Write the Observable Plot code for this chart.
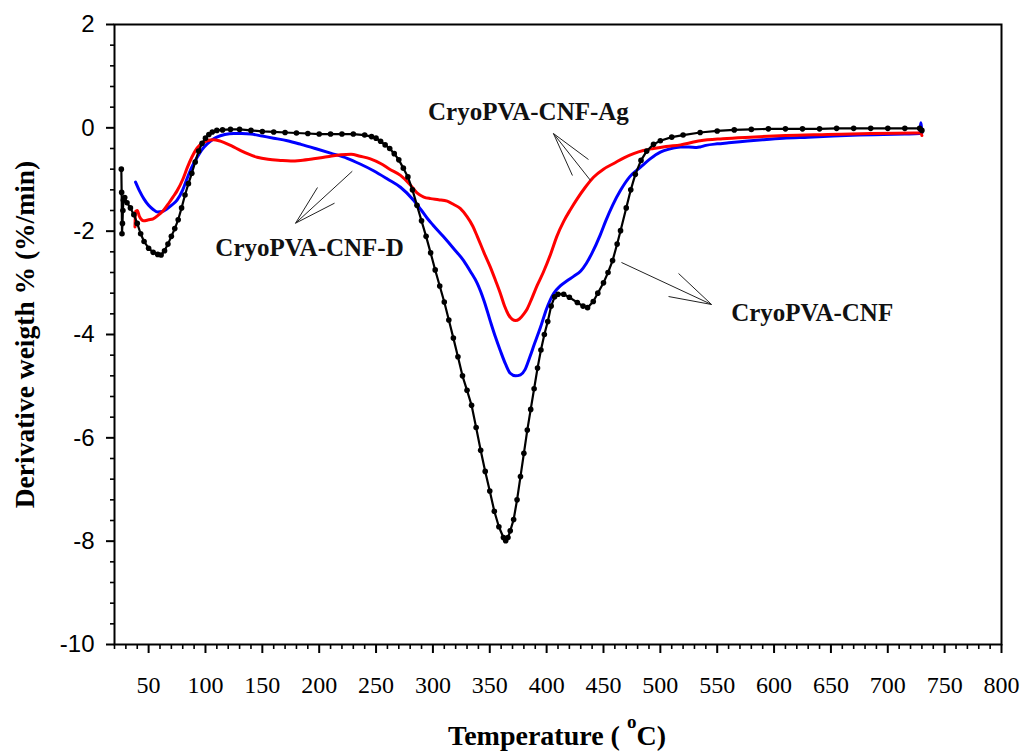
<!DOCTYPE html>
<html>
<head>
<meta charset="utf-8">
<script src="https://cdn.jsdelivr.net/npm/d3@7"></script>
<script src="https://cdn.jsdelivr.net/npm/@observablehq/plot@0.6"></script>
<style>
  html, body { margin: 0; padding: 0; background: #fff; }
</style>
</head>
<body>
<div id="chart"></div>
<script>
// ---- Data ----
// CryoPVA-CNF (black, with markers)
const cnfT = [26,26.3,26.6,27,27.4,27.8,29,31,34,37,40,43,46,50,54,58,61,64,67,70,73,76,79,82,85,88,91,94,97,100,103,106,110,115,122,130,140,150,160,170,180,190,200,210,220,230,240,246,250,254,258,262,266,270,274,278,282,286,290,294,298,302,306,310,314,318,322,326,330,334,338,342,346,350,354,358,362,364,366,368,371,374,377,380,383,386,389,392,395,398,401,404,407,410,415,420,427,432,436,441,445,450,454,458,462,465,470,474,478,483,488,494,500,510,520,535,550,565,580,595,610,625,640,655,670,685,700,715,728,730];
const cnfV = [-0.8,-1.25,-2.05,-1.85,-1.6,-1.4,-1.35,-1.45,-1.55,-1.68,-1.85,-2.05,-2.2,-2.33,-2.41,-2.45,-2.46,-2.38,-2.25,-2.1,-1.95,-1.78,-1.55,-1.3,-1.08,-0.88,-0.66,-0.45,-0.3,-0.2,-0.13,-0.08,-0.05,-0.04,-0.03,-0.03,-0.05,-0.07,-0.08,-0.09,-0.1,-0.11,-0.12,-0.12,-0.12,-0.12,-0.14,-0.17,-0.2,-0.26,-0.33,-0.4,-0.5,-0.62,-0.78,-0.95,-1.2,-1.5,-1.8,-2.1,-2.42,-2.75,-3.06,-3.37,-3.72,-4.07,-4.43,-4.8,-5.08,-5.37,-5.8,-6.24,-6.65,-7.03,-7.42,-7.72,-7.93,-7.99,-7.93,-7.8,-7.58,-7.2,-6.75,-6.3,-5.85,-5.45,-5.05,-4.65,-4.3,-4.0,-3.75,-3.45,-3.27,-3.22,-3.22,-3.28,-3.38,-3.45,-3.48,-3.36,-3.2,-3.0,-2.8,-2.57,-2.25,-1.99,-1.55,-1.2,-0.9,-0.63,-0.45,-0.32,-0.25,-0.18,-0.14,-0.09,-0.06,-0.04,-0.03,-0.02,-0.02,-0.02,-0.02,-0.01,-0.01,-0.01,-0.01,-0.01,-0.01,-0.05];

// CryoPVA-CNF-D (blue)
const dT = [38.5,42,46,50,54,58,62,66,70,75,80,84,88,92.7,97,101.5,106,110,117,125,132,140,150,160,172,184,198,210,224.6,236,247.8,260,271.5,283,290,295,300,309,318,327,333,339,345,350.6,355,359.4,364,368,372.6,377,381,385,389,394.6,400,406,412,418,424,430,435,440,447,452,458,465,473,482.6,491,500,508,517.7,525,532,535,540,550,560,570,590,608,630,652,675,696,715,728,729,730];
const dV = [-1.05,-1.22,-1.38,-1.5,-1.58,-1.63,-1.62,-1.57,-1.5,-1.4,-1.2,-0.97,-0.76,-0.57,-0.42,-0.31,-0.23,-0.18,-0.13,-0.11,-0.11,-0.12,-0.16,-0.2,-0.25,-0.32,-0.41,-0.49,-0.59,-0.7,-0.83,-0.99,-1.15,-1.4,-1.6,-1.75,-1.88,-2.1,-2.33,-2.57,-2.78,-3.01,-3.35,-3.75,-4.05,-4.32,-4.58,-4.75,-4.8,-4.78,-4.68,-4.45,-4.2,-3.86,-3.5,-3.21,-3.06,-2.96,-2.87,-2.77,-2.62,-2.42,-2.08,-1.8,-1.5,-1.21,-0.95,-0.76,-0.6,-0.47,-0.41,-0.37,-0.37,-0.38,-0.37,-0.34,-0.31,-0.29,-0.27,-0.23,-0.2,-0.18,-0.16,-0.14,-0.13,-0.12,-0.11,0.1,-0.1];

// CryoPVA-CNF-Ag (red)
const agT = [38,38.5,40,42,45.5,50,54,58,63,68,72,75,80,84,88,92.7,97,101.5,107,112,116,123,131,138,145.5,155,166,175,183.6,195,207,219,228,236,245,254,262,271.5,280,286,292,298,305,312.6,318,324,330,335,339,345,350.6,355,359.4,363,366.5,370,372.6,376,380,383,387,391.7,397,403.4,409,415,421,427,434,441,450,459,468,476.5,485,494,505,517.7,535,555,579,610,647,685,723,729,730];
const agV = [-1.92,-1.62,-1.6,-1.72,-1.8,-1.78,-1.76,-1.7,-1.6,-1.45,-1.32,-1.22,-1.0,-0.77,-0.57,-0.39,-0.3,-0.25,-0.23,-0.25,-0.28,-0.35,-0.44,-0.51,-0.57,-0.61,-0.63,-0.64,-0.63,-0.6,-0.56,-0.52,-0.51,-0.55,-0.6,-0.69,-0.8,-0.92,-1.1,-1.26,-1.34,-1.37,-1.39,-1.42,-1.48,-1.56,-1.72,-1.9,-2.1,-2.42,-2.7,-2.95,-3.21,-3.45,-3.62,-3.71,-3.73,-3.7,-3.6,-3.5,-3.3,-3.05,-2.8,-2.45,-2.1,-1.81,-1.58,-1.37,-1.15,-0.96,-0.8,-0.69,-0.58,-0.5,-0.44,-0.4,-0.36,-0.33,-0.25,-0.21,-0.18,-0.15,-0.13,-0.11,-0.1,-0.1,-0.15];

// Tick values
const xMajor = d3.range(50, 801, 50);
const xMinor = d3.range(20, 801, 10).filter(v => v % 50 !== 0);
const yMajor = d3.range(-10, 3, 2);
const yMinor = d3.range(0, 31).filter(i => i % 5 !== 0).map(i => +(-10 + i * 0.4).toFixed(2));

// Annotations
const labels = ["CryoPVA-CNF-Ag", "CryoPVA-CNF-D", "CryoPVA-CNF"];
const labelT = [384, 191.5, 633.5];
const labelV = [0.142, -2.49, -3.742];
const arrowT1 = [406.0, 406.0, 406.0, 179.2, 179.2, 179.2, 545.0, 545.0, 545.0];
const arrowV1 = [-0.110, -0.110, -0.110, -1.846, -1.846, -1.846, -3.419, -3.419, -3.419];
const arrowT2 = [438.6, 436.8, 422.7, 229.1, 198.5, 213.5, 465.8, 516.0, 507.2];
const arrowV2 = [-1.019, -0.613, -0.923, -0.840, -1.155, -1.458, -2.606, -2.819, -3.265];

// ---- Build tables ----
const cnf = cnfT.map((t, i) => ({t, v: cnfV[i]}));
const dser = dT.map((t, i) => ({t, v: dV[i]}));
const ag = agT.map((t, i) => ({t, v: agV[i]}));
const ann = labels.map((s, i) => ({s, t: labelT[i], v: labelV[i]}));
const arrows = arrowT1.map((t, i) => ({t1: t, v1: arrowV1[i], t2: arrowT2[i], v2: arrowV2[i]}));

const serif = "'Liberation Serif', 'Times New Roman', serif";
const sans = "'Liberation Sans', Arial, sans-serif";

const chart = Plot.plot({
  width: 1024,
  height: 754,
  marginLeft: 114,
  marginRight: 23,
  marginTop: 24,
  marginBottom: 110,
  style: {background: "#fff", overflow: "visible"},
  x: {domain: [20, 800]},
  y: {domain: [-10, 2]},
  marks: [
    Plot.axisX({ticks: xMinor, tickSize: 5, tickFormat: () => "", strokeWidth: 1.6, label: null}),
    Plot.axisX({ticks: xMajor, tickSize: 9, tickPadding: 22, strokeWidth: 2, fontFamily: serif, fontSize: 24, fill: "#000", label: null}),
    Plot.axisY({ticks: yMinor, tickSize: 4, tickFormat: () => "", strokeWidth: 1.6, label: null}),
    Plot.axisY({ticks: yMajor, tickSize: 8, tickPadding: 12, strokeWidth: 2, fontFamily: sans, fontSize: 24, fill: "#000", tickFormat: d => `${d}`, label: null}),
    Plot.frame({stroke: "#000", strokeWidth: 2}),
    Plot.line(dser, {x: "t", y: "v", stroke: "#0000ff", strokeWidth: 3, curve: "monotone-x"}),
    Plot.line(ag, {x: "t", y: "v", stroke: "#ff0000", strokeWidth: 3, curve: "monotone-x"}),
    Plot.line(cnf, {x: "t", y: "v", stroke: "#000", strokeWidth: 2.2}),
    Plot.dot(cnf, {x: "t", y: "v", r: 2.8, fill: "#000", stroke: "none"}),
    Plot.link(arrows, {x1: "t1", y1: "v1", x2: "t2", y2: "v2", stroke: "#222", strokeWidth: 1}),
    Plot.text(ann, {x: "t", y: "v", text: "s", lineAnchor: "bottom", textAnchor: "middle", fontFamily: serif, fontWeight: "bold", fontSize: 25, fill: "#111"}),
    Plot.text(["Derivative weigth % (%/min)"], {frameAnchor: "left", dx: -89, rotate: -90, textAnchor: "middle", lineAnchor: "middle", fontFamily: serif, fontWeight: "bold", fontSize: 27.5, fill: "#000"})
  ]
});

// X axis title with superscript
const svg = d3.select(chart);
const xt = svg.append("text")
  .attr("x", 557)
  .attr("y", 745)
  .attr("text-anchor", "middle")
  .attr("font-family", serif)
  .attr("font-weight", "bold")
  .attr("font-size", 28)
  .attr("fill", "#000");
xt.append("tspan").text("Temperature ( ");
xt.append("tspan").attr("font-size", 19).attr("dy", -17).text("o");
xt.append("tspan").attr("dy", 17).text("C)");

document.getElementById("chart").appendChild(chart);
</script>
</body>
</html>
